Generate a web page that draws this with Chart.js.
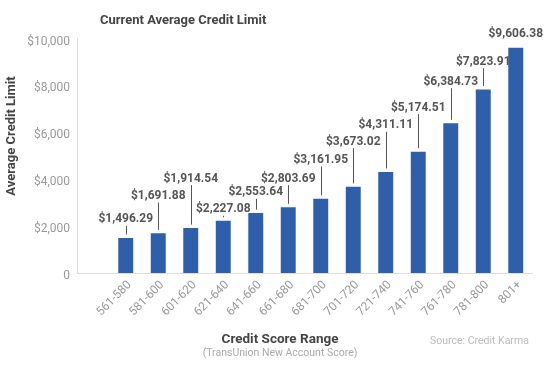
<!DOCTYPE html>
<html>
<head>
<meta charset="utf-8">
<script src="https://cdn.jsdelivr.net/npm/chart.js@4.4.1/dist/chart.umd.min.js"></script>
<style>
  html, body { margin: 0; padding: 0; background: #ffffff; }
  #wrap { width: 547px; height: 366px; position: relative; }
</style>
</head>
<body>
<div id="wrap"><canvas id="c" width="547" height="366"></canvas></div>
<script>
// ---- data ----
const categories = ['', '561-580', '581-600', '601-620', '621-640', '641-660', '661-680', '681-700', '701-720', '721-740', '741-760', '761-780', '781-800', '801+'];
const creditLimits = [null, 1496.29, 1691.88, 1914.54, 2227.08, 2553.64, 2803.69, 3161.95, 3673.02, 4311.11, 5174.51, 6384.73, 7823.91, 9606.38];
const yTicks = [0, 2000, 4000, 6000, 8000, 10000];

// ---- label styling (pixel lift of each value label above its bar) ----
const labelLift = [0, 18.6, 37.3, 49.4, 11.5, 20.8, 28.6, 38.9, 45.2, 46.6, 44, 41.6, 27.8, 13.4];
const showLeader = [false, true, true, true, true, true, true, true, true, true, true, true, true, false];

const FONT = 'Roboto, "Noto Sans", sans-serif';

function money(v) {
  return '$' + v.toLocaleString('en-US', { minimumFractionDigits: 2, maximumFractionDigits: 2 });
}

const valueLabels = {
  id: 'valueLabels',
  afterDatasetsDraw(chart) {
    const ctx = chart.ctx;
    const meta = chart.getDatasetMeta(0);
    ctx.save();
    ctx.font = 'bold 12px ' + FONT;
    ctx.fillStyle = '#555555';
    ctx.strokeStyle = '#555555';
    ctx.lineWidth = 1;
    ctx.textAlign = 'center';
    ctx.textBaseline = 'middle';
    meta.data.forEach((bar, i) => {
      const v = creditLimits[i];
      if (v === null || v === undefined) return;
      const x = bar.x;
      const top = bar.y;
      const ly = top - labelLift[i];
      ctx.fillText(money(v), x, ly);
      if (showLeader[i]) {
        const y1 = ly + 6.5, y2 = top - 3.5;
        if (y2 > y1) {
          const px = Math.round(x) + 0.5;
          ctx.beginPath();
          ctx.moveTo(px, y1);
          ctx.lineTo(px, y2);
          ctx.stroke();
        }
      }
    });
    ctx.restore();
  }
};

const texts = {
  id: 'texts',
  afterDraw(chart) {
    const ctx = chart.ctx;
    ctx.save();
    ctx.textBaseline = 'middle';
    // title
    ctx.font = 'bold 13px ' + FONT;
    ctx.fillStyle = '#444444';
    ctx.textAlign = 'left';
    ctx.fillText('Current Average Credit Limit', 100, 21);
    // y axis title
    ctx.save();
    ctx.translate(12, 136);
    ctx.rotate(-Math.PI / 2);
    ctx.textAlign = 'center';
    ctx.font = 'bold 13px ' + FONT;
    ctx.fillStyle = '#444444';
    ctx.fillText('Average Credit Limit', 0, 0);
    ctx.restore();
    // x axis title
    ctx.textAlign = 'center';
    ctx.font = 'bold 13.5px ' + FONT;
    ctx.fillStyle = '#444444';
    ctx.fillText('Credit Score Range', 280, 340);
    ctx.font = '10.5px ' + FONT;
    ctx.fillStyle = '#aaaaaa';
    ctx.fillText('(TransUnion New Account Score)', 280, 353);
    // source
    ctx.textAlign = 'left';
    ctx.font = '10.5px ' + FONT;
    ctx.fillStyle = '#bbbbbb';
    ctx.fillText('Source: Credit Karma', 430, 341);
    ctx.restore();
  }
};

new Chart(document.getElementById('c'), {
  type: 'bar',
  data: {
    labels: categories,
    datasets: [{
      data: creditLimits,
      backgroundColor: '#2f5eab',
      borderWidth: 0,
      categoryPercentage: 1,
      barPercentage: 0.46
    }]
  },
  options: {
    responsive: false,
    animation: false,
    devicePixelRatio: 1,
    layout: { padding: { left: 0, right: 15, top: 38.5, bottom: 0 } },
    plugins: {
      legend: { display: false },
      tooltip: { enabled: false },
      title: { display: false }
    },
    scales: {
      x: {
        grid: { display: false, drawTicks: false },
        border: { display: true, color: '#dddddd', width: 1 },
        ticks: {
          color: '#999999',
          font: { family: FONT, size: 12 },
          minRotation: 45,
          maxRotation: 45,
          padding: 5,
          labelOffset: 4,
          autoSkip: false
        },
        afterFit(scale) { scale.height = 93; }
      },
      y: {
        min: 0,
        max: 10000,
        afterBuildTicks(scale) { scale.ticks = yTicks.map(v => ({ value: v })); },
        grid: { display: false, drawTicks: false },
        border: { display: true, color: '#dddddd', width: 1 },
        ticks: {
          color: '#999999',
          font: { family: FONT, size: 12 },
          padding: 7,
          labelOffset: 3,
          callback: v => v === 0 ? '0' : '$' + v.toLocaleString('en-US')
        },
        afterFit(scale) { scale.width = 77; }
      }
    }
  },
  plugins: [valueLabels, texts]
});
</script>
</body>
</html>
